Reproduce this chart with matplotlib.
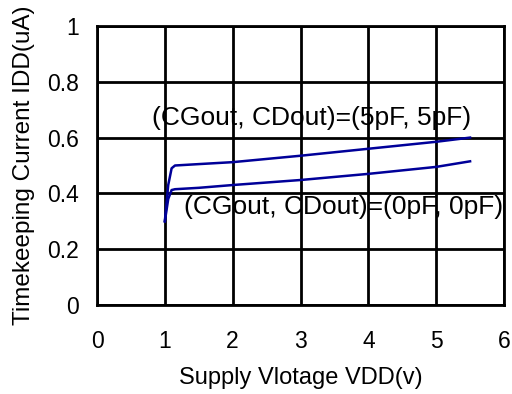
import matplotlib
matplotlib.use("Agg")
from matplotlib import pyplot as plt

plt.rcParams['font.family'] = ['Liberation Sans', 'DejaVu Sans']

# Supply voltage (V) and timekeeping current (uA)
vdd_5pf = [1.0, 1.05, 1.1, 1.15, 1.5, 2.0, 3.0, 4.0, 5.0, 5.5]
idd_5pf = [0.30, 0.43, 0.49, 0.50, 0.505, 0.512, 0.535, 0.56, 0.585, 0.60]

vdd_0pf = [1.0, 1.05, 1.1, 1.15, 1.5, 2.0, 3.0, 4.0, 5.0, 5.5]
idd_0pf = [0.30, 0.38, 0.412, 0.415, 0.42, 0.43, 0.448, 0.47, 0.495, 0.515]

label_5pf = "(CGout, CDout)=(5pF, 5pF)"
label_0pf = "(CGout, CDout)=(0pF, 0pF)"

x_ticks = [0, 1, 2, 3, 4, 5, 6]
y_ticks = [0, 0.2, 0.4, 0.6, 0.8, 1]
y_tick_labels = ["0", "0.2", "0.4", "0.6", "0.8", "1"]

fig = plt.figure(figsize=(5.12, 3.94), dpi=100)
ax = fig.add_axes([97 / 512, 1 - 305 / 394, 407 / 512, 279 / 394])

ax.plot(vdd_5pf, idd_5pf, color='#000099', lw=1.8)
ax.plot(vdd_0pf, idd_0pf, color='#000099', lw=1.8)

ax.text(3.17, 0.67, label_5pf, ha='center', va='center', fontsize=19)
ax.text(3.64, 0.352, label_0pf, ha='center', va='center', fontsize=19, clip_on=False)

ax.set_xlim(0, 6)
ax.set_ylim(0, 1)
ax.set_xticks(x_ticks)
ax.set_yticks(y_ticks)
ax.set_yticklabels(y_tick_labels)
ax.tick_params(length=0, labelsize=16.5)
ax.tick_params(axis='x', pad=18)
ax.tick_params(axis='y', pad=13)
ax.grid(True, color='black', lw=2)
ax.set_axisbelow(True)
for s in ax.spines.values():
    s.set_linewidth(2)

ax.set_xlabel("Supply Vlotage VDD(v)", fontsize=17, labelpad=10)
ax.set_ylabel("Timekeeping Current IDD(uA)", fontsize=17.5, labelpad=9)

fig.savefig("out.png", dpi=100)
